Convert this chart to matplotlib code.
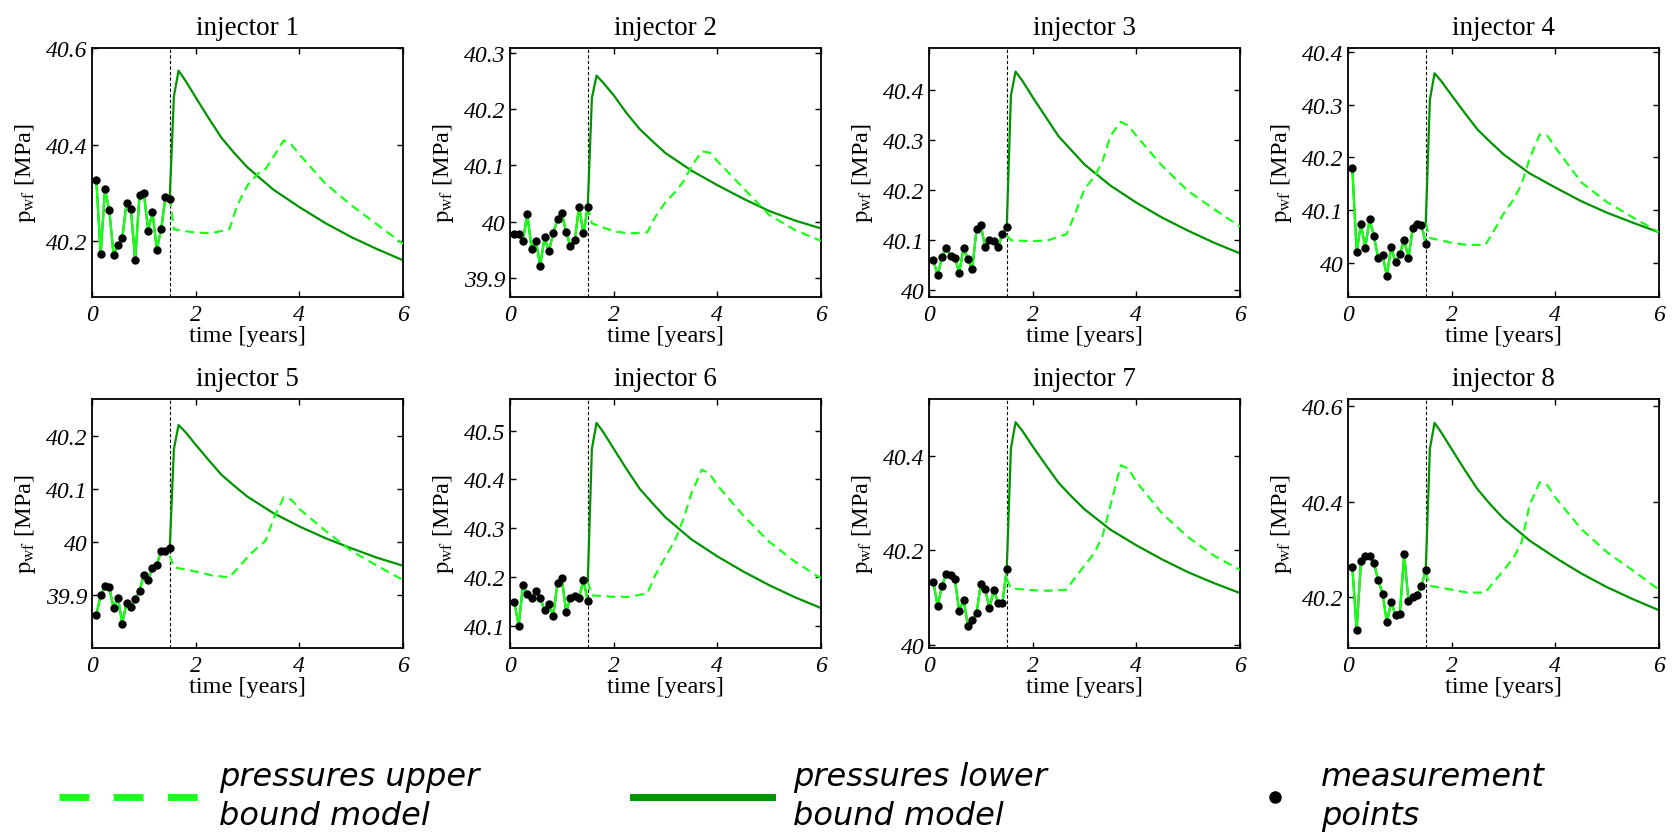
"""Bottom-hole pressure history match and forecast for eight injectors."""

import matplotlib

matplotlib.use("Agg")
import matplotlib.pyplot as plt
from matplotlib.lines import Line2D

# measurement times [years] (monthly, first 1.5 years)
T_MEAS = [0.083, 0.167, 0.25, 0.333, 0.417, 0.5, 0.583, 0.667, 0.75,
          0.833, 0.917, 1.0, 1.083, 1.167, 1.25, 1.333, 1.417, 1.5]
# forecast sample times for the two models
T_LOWER = [1.5, 1.58, 1.67, 1.8, 2.0, 2.25, 2.5, 2.75, 3.0, 3.5, 4.0, 4.5, 5.0, 5.5, 6.0]
T_UPPER = [1.5, 1.58, 2.0, 2.3, 2.65, 2.8, 3.0, 3.2, 3.35, 3.5, 3.7, 3.85, 4.0, 4.5, 5.0, 5.5, 6.0]

TITLES = ["injector 1", "injector 2", "injector 3", "injector 4",
          "injector 5", "injector 6", "injector 7", "injector 8"]

MEAS = [
    [40.327, 40.174, 40.308, 40.265, 40.171, 40.192, 40.206, 40.28, 40.267,
     40.161, 40.296, 40.301, 40.222, 40.261, 40.183, 40.225, 40.291, 40.288],
    [39.978, 39.978, 39.966, 40.014, 39.952, 39.966, 39.922, 39.972, 39.947,
     39.979, 40.005, 40.015, 39.981, 39.956, 39.967, 40.027, 39.979, 40.027],
    [40.061, 40.030, 40.067, 40.085, 40.069, 40.065, 40.035, 40.085, 40.062,
     40.042, 40.122, 40.130, 40.086, 40.100, 40.098, 40.087, 40.113, 40.126],
    [40.180, 40.020, 40.073, 40.029, 40.083, 40.050, 40.009, 40.015, 39.975,
     40.030, 40.001, 40.016, 40.044, 40.009, 40.067, 40.074, 40.072, 40.036],
    [39.864, 39.900, 39.918, 39.915, 39.876, 39.896, 39.847, 39.886, 39.879,
     39.893, 39.909, 39.938, 39.930, 39.952, 39.957, 39.984, 39.984, 39.989],
    [40.149, 40.100, 40.183, 40.164, 40.156, 40.171, 40.157, 40.131, 40.145,
     40.120, 40.188, 40.197, 40.128, 40.157, 40.160, 40.157, 40.194, 40.150],
    [40.134, 40.082, 40.125, 40.151, 40.149, 40.139, 40.072, 40.096, 40.041,
     40.054, 40.068, 40.130, 40.118, 40.079, 40.117, 40.089, 40.089, 40.161],
    [40.264, 40.132, 40.275, 40.287, 40.287, 40.271, 40.236, 40.208, 40.148,
     40.190, 40.163, 40.165, 40.291, 40.192, 40.200, 40.205, 40.223, 40.257],
]

LOWER = [
    [40.29, 40.50, 40.553, 40.533, 40.498, 40.455, 40.414, 40.382, 40.353, 40.307, 40.271, 40.238, 40.209, 40.184, 40.161],
    [40.027, 40.22, 40.26, 40.247, 40.225, 40.193, 40.165, 40.143, 40.122, 40.091, 40.065, 40.041, 40.019, 40.002, 39.988],
    [40.126, 40.388, 40.436, 40.418, 40.385, 40.346, 40.307, 40.279, 40.251, 40.209, 40.175, 40.145, 40.119, 40.095, 40.074],
    [40.075, 40.31, 40.36, 40.345, 40.318, 40.285, 40.253, 40.229, 40.206, 40.170, 40.143, 40.117, 40.095, 40.076, 40.058],
    [39.989, 40.176, 40.221, 40.208, 40.184, 40.155, 40.127, 40.106, 40.086, 40.055, 40.030, 40.008, 39.989, 39.971, 39.956],
    [40.19, 40.463, 40.516, 40.497, 40.463, 40.421, 40.381, 40.351, 40.322, 40.277, 40.242, 40.211, 40.183, 40.158, 40.136],
    [40.161, 40.415, 40.471, 40.453, 40.420, 40.381, 40.343, 40.314, 40.287, 40.244, 40.211, 40.181, 40.154, 40.131, 40.110],
    [40.257, 40.511, 40.565, 40.545, 40.510, 40.467, 40.426, 40.394, 40.365, 40.319, 40.283, 40.250, 40.221, 40.196, 40.173],
]

UPPER = [
    [40.29, 40.225, 40.218, 40.217, 40.225, 40.274, 40.316, 40.34, 40.35, 40.375, 40.409, 40.40, 40.38, 40.32, 40.275, 40.235, 40.195],
    [40.027, 39.997, 39.983, 39.979, 39.981, 40.008, 40.035, 40.054, 40.072, 40.098, 40.125, 40.123, 40.108, 40.06, 40.012, 39.985, 39.966],
    [40.11, 40.10, 40.098, 40.10, 40.112, 40.148, 40.202, 40.228, 40.258, 40.308, 40.336, 40.328, 40.308, 40.248, 40.198, 40.162, 40.127],
    [40.075, 40.047, 40.038, 40.034, 40.034, 40.058, 40.093, 40.121, 40.15, 40.197, 40.244, 40.241, 40.219, 40.153, 40.115, 40.086, 40.058],
    [39.975, 39.953, 39.945, 39.938, 39.934, 39.95, 39.972, 39.991, 40.003, 40.044, 40.085, 40.080, 40.063, 40.022, 39.984, 39.956, 39.929],
    [40.19, 40.162, 40.159, 40.159, 40.166, 40.203, 40.241, 40.279, 40.32, 40.371, 40.42, 40.412, 40.388, 40.326, 40.272, 40.231, 40.197],
    [40.14, 40.12, 40.116, 40.115, 40.117, 40.14, 40.168, 40.196, 40.232, 40.295, 40.38, 40.373, 40.345, 40.278, 40.228, 40.189, 40.159],
    [40.252, 40.224, 40.216, 40.21, 40.21, 40.231, 40.256, 40.284, 40.315, 40.392, 40.441, 40.434, 40.409, 40.343, 40.294, 40.256, 40.216],
]

YLIMS = [(40.085, 40.6), (39.866, 40.309), (39.987, 40.483), (39.935, 40.408),
         (39.801, 40.270), (40.054, 40.565), (39.994, 40.52), (40.094, 40.615)]
YTICKS = [[40.2, 40.4, 40.6], [39.9, 40.0, 40.1, 40.2, 40.3], [40.0, 40.1, 40.2, 40.3, 40.4],
          [40.0, 40.1, 40.2, 40.3, 40.4], [39.9, 40.0, 40.1, 40.2], [40.1, 40.2, 40.3, 40.4, 40.5],
          [40.0, 40.2, 40.4], [40.2, 40.4, 40.6]]
XTICKS = [0, 2, 4, 6]

LIGHT = "#1aff1a"
DARK = "#009400"

plt.rcParams["font.family"] = "Liberation Serif"
plt.rcParams["mathtext.fontset"] = "stix"

W, H = 1673, 837
fig = plt.figure(figsize=(W / 100, H / 100), dpi=100)

lefts = [92, 510, 929, 1348]
tops = [49, 400]
ax_w, ax_h = 311, 249

for i in range(8):
    row, col = divmod(i, 4)
    ax = fig.add_axes([lefts[col] / W, 1 - (tops[row] + ax_h) / H, ax_w / W, ax_h / H])

    ax.plot(T_MEAS, MEAS[i], color=DARK, lw=1.6, zorder=2)
    ax.plot(T_MEAS, MEAS[i], color=LIGHT, lw=1.6, zorder=3)
    ax.plot(T_LOWER, LOWER[i], color=DARK, lw=1.6, zorder=2)
    ax.plot(T_UPPER, UPPER[i], color=LIGHT, lw=1.6, dashes=(4, 2.5), zorder=3)
    ax.plot(T_MEAS, MEAS[i], "o", color="black", ms=5, zorder=4)
    ax.axvline(1.5, color="black", lw=0.8, dashes=(3, 2), zorder=1)

    ax.set_xlim(0, 6)
    ax.set_ylim(*YLIMS[i])
    ax.set_xticks(XTICKS)
    ax.set_xticklabels([f"{v:g}" for v in XTICKS])
    ax.set_yticks(YTICKS[i])
    ax.set_yticklabels([f"{v:g}" for v in YTICKS[i]])
    for lab in ax.get_xticklabels() + ax.get_yticklabels():
        lab.set_fontstyle("italic")
    ax.tick_params(direction="in", top=True, right=True, length=4, width=1, labelsize=17)
    ax.tick_params(axis="y", pad=3)
    ax.tick_params(axis="x", pad=5)
    for sp in ax.spines.values():
        sp.set_linewidth(1.3)

    ax.set_title(TITLES[i], fontsize=19.5, pad=10)
    ax.set_xlabel("time [years]", fontsize=17.5, labelpad=0)
    ax.set_ylabel(r"$\mathrm{p_{wf}}$ [MPa]", fontsize=17.5)
    ax.yaxis.set_label_coords(-0.175, 0.5)

# legend, three separate entries spread along the bottom
leg_font = {"family": "DejaVu Sans", "style": "italic", "size": 23}
entries = [
    (Line2D([], [], color=LIGHT, lw=5, linestyle=(0, (4.3, 3.5))),
     "pressures upper\nbound model", 59, 4.35, 0.66),
    (Line2D([], [], color=DARK, lw=5), "pressures lower\nbound model", 633, 4.35, 0.66),
    (Line2D([], [], color="black", marker="o", ms=8, linestyle="none"),
     "measurement\npoints", 1259, 1.0, 0.94),
]
for handle, label, x0, hlen, hpad in entries:
    leg = fig.legend([handle], [label], loc="center left", bbox_to_anchor=(x0 / W, 1 - 797 / H),
                     frameon=False, prop=leg_font, handlelength=hlen, handletextpad=hpad,
                     borderpad=0, borderaxespad=0, numpoints=1)
    for t in leg.get_texts():
        t.set_linespacing(1.3)

fig.savefig("out.png", dpi=100)
